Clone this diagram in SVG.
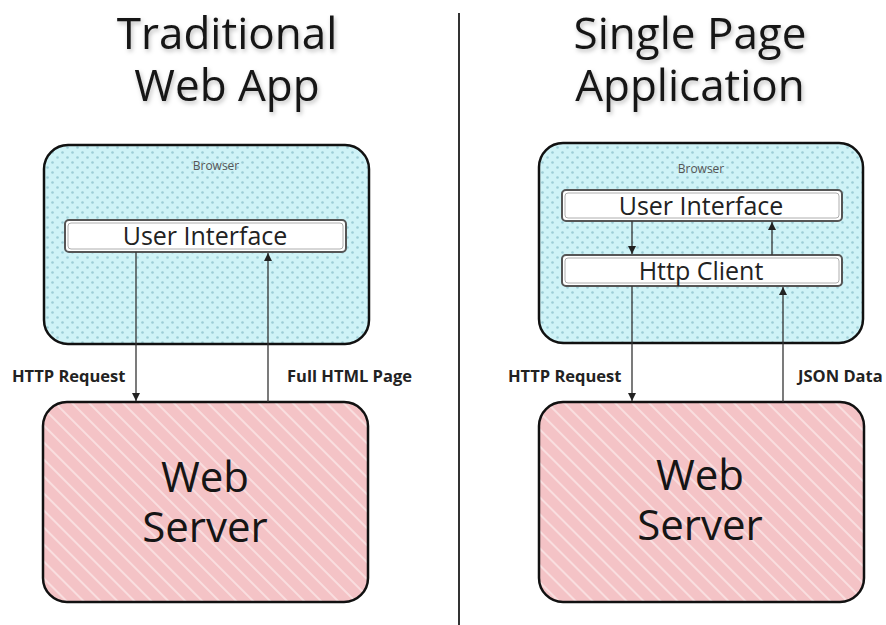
<svg xmlns="http://www.w3.org/2000/svg" width="886" height="625" viewBox="0 0 886 625">
  <style>
    .title { font-family: "Open Sans", "Liberation Sans", sans-serif; font-size: 44px; fill: #151515; text-anchor: middle; }
    .server-text { font-family: "Open Sans", "Liberation Sans", sans-serif; font-size: 42px; fill: #151515; text-anchor: middle; }
    .comp-text { font-family: "Open Sans", "Liberation Sans", sans-serif; font-size: 25px; fill: #222; text-anchor: middle; }
    .small { font-family: "Open Sans", "Liberation Sans", sans-serif; font-size: 12px; fill: #555; text-anchor: middle; }
    .label { font-family: "Open Sans", "Liberation Sans", sans-serif; font-size: 16.5px; font-weight: bold; fill: #222; }
    .browser { fill: url(#dots); stroke: #111; stroke-width: 2.5; }
    .server { fill: url(#hatch); stroke: #111; stroke-width: 2.5; }
    .comp { fill: #fff; stroke: #555; stroke-width: 2; }
    .comp-inner { fill: none; stroke: #999; stroke-width: 0.8; }
    .conn { stroke: #333; stroke-width: 1.3; fill: none; }
  </style>
  <defs>
    <pattern id="dots" width="10" height="10" patternUnits="userSpaceOnUse">
      <rect width="10" height="10" fill="#cff3f7"/>
      <circle cx="2.5" cy="2.5" r="1.3" fill="#9ccdd6"/>
      <circle cx="7.5" cy="7.5" r="1.3" fill="#9ccdd6"/>
    </pattern>
    <pattern id="hatch" width="12" height="12" patternUnits="userSpaceOnUse" patternTransform="rotate(45)">
      <rect width="12" height="12" fill="#f4c3c6"/>
      <line x1="0" y1="6" x2="12" y2="6" stroke="#fbe5e6" stroke-width="1.6"/>
    </pattern>
    <marker id="arrow" viewBox="0 0 10 10" refX="10" refY="5" markerWidth="8" markerHeight="8" markerUnits="userSpaceOnUse" orient="auto">
      <path d="M0,0 L10,5 L0,10 z" fill="#222"/>
    </marker>
    <filter id="shadow" x="-10%" y="-20%" width="120%" height="150%">
      <feDropShadow dx="1.5" dy="2.5" stdDeviation="2" flood-color="#000" flood-opacity="0.25"/>
    </filter>
  </defs>

  <rect width="886" height="625" fill="#fff"/>

  <!-- divider between the two architectures -->
  <line x1="459" y1="13" x2="459" y2="625" stroke="#333" stroke-width="2"/>

  <!-- headings -->
  <g id="title-traditional" filter="url(#shadow)">
    <text class="title" x="227" y="49">Traditional<tspan x="227" dy="52">Web App</tspan></text>
  </g>
  <g id="title-spa" filter="url(#shadow)">
    <text class="title" x="690" y="49">Single Page<tspan x="690" dy="52">Application</tspan></text>
  </g>

  <!-- traditional web app -->
  <g id="browser-left">
    <rect class="browser" x="44" y="145" width="325" height="199" rx="24"/>
    <text class="small" x="216" y="170">Browser</text>
  </g>
  <g id="ui-left">
    <rect class="comp" x="65" y="220" width="281" height="32" rx="4"/>
    <rect class="comp-inner" x="68" y="223" width="275" height="26" rx="3"/>
    <text class="comp-text" x="205" y="245">User Interface</text>
  </g>
  <g id="server-left">
    <rect class="server" x="43" y="402" width="325" height="200" rx="24"/>
    <text class="server-text" x="205" y="492">Web<tspan x="205" dy="50">Server</tspan></text>
  </g>

  <!-- single page application -->
  <g id="browser-right">
    <rect class="browser" x="539" y="143" width="324" height="200" rx="24"/>
    <text class="small" x="701" y="173">Browser</text>
  </g>
  <g id="ui-right">
    <rect class="comp" x="562" y="190" width="280" height="31" rx="4"/>
    <rect class="comp-inner" x="565" y="193" width="274" height="25" rx="3"/>
    <text class="comp-text" x="701" y="215">User Interface</text>
  </g>
  <g id="http-client">
    <rect class="comp" x="562" y="255" width="280" height="31" rx="4"/>
    <rect class="comp-inner" x="565" y="258" width="274" height="25" rx="3"/>
    <text class="comp-text" x="701" y="280">Http Client</text>
  </g>
  <g id="server-right">
    <rect class="server" x="539" y="402" width="325" height="200" rx="24"/>
    <text class="server-text" x="700" y="490">Web<tspan x="700" dy="50">Server</tspan></text>
  </g>

  <!-- connectors -->
  <g id="connectors">
    <line class="conn" x1="136" y1="252" x2="136" y2="401" marker-end="url(#arrow)"/>
    <line class="conn" x1="268" y1="402" x2="268" y2="253" marker-end="url(#arrow)"/>
    <line class="conn" x1="632" y1="221" x2="632" y2="254" marker-end="url(#arrow)"/>
    <line class="conn" x1="772" y1="255" x2="772" y2="222" marker-end="url(#arrow)"/>
    <line class="conn" x1="632" y1="286" x2="632" y2="401" marker-end="url(#arrow)"/>
    <line class="conn" x1="783" y1="402" x2="783" y2="287" marker-end="url(#arrow)"/>
    <text class="label" x="12" y="382">HTTP Request</text>
    <text class="label" x="287" y="382">Full HTML Page</text>
    <text class="label" x="508" y="382">HTTP Request</text>
    <text class="label" x="798" y="382">JSON Data</text>
  </g>
</svg>
